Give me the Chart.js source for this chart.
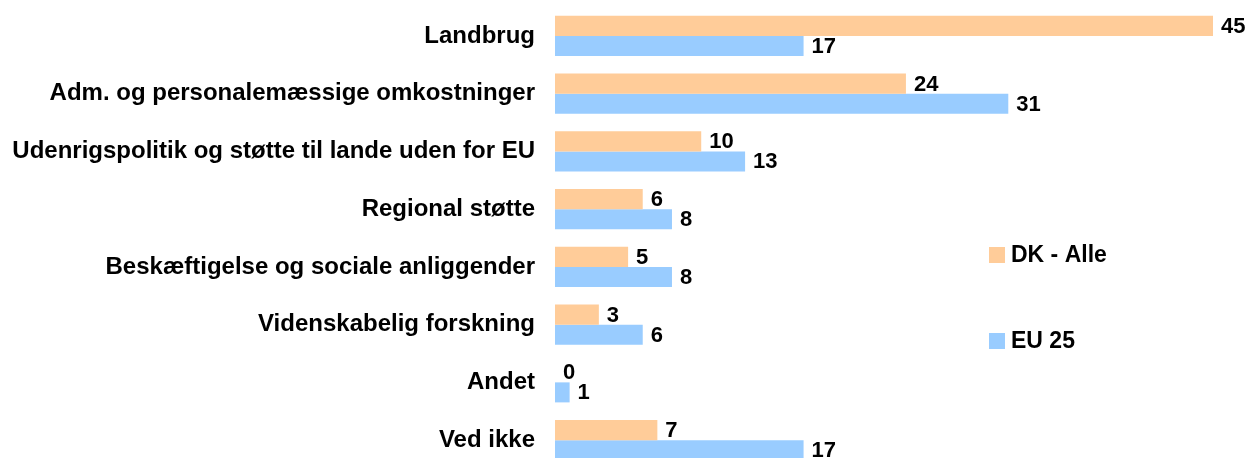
<!DOCTYPE html>
<html>
<head>
<meta charset="utf-8">
<script src="https://cdn.jsdelivr.net/npm/chart.js@4/dist/chart.umd.min.js"></script>
<style>
  html, body { margin: 0; padding: 0; background: #fff; overflow: hidden; }
  canvas { display: block; }
</style>
</head>
<body>
<canvas id="chart" width="1251" height="470"></canvas>
<script>
const categories = [
  "Landbrug",
  "Adm. og personalemæssige omkostninger",
  "Udenrigspolitik og støtte til lande uden for EU",
  "Regional støtte",
  "Beskæftigelse og sociale anliggender",
  "Videnskabelig forskning",
  "Andet",
  "Ved ikke"
];
const dkAlle = [45, 24, 10, 6, 5, 3, 0, 7];
const eu25 = [17, 31, 13, 8, 8, 6, 1, 17];
const seriesNames = ["DK - Alle", "EU 25"];

const FAMILY = "'Liberation Sans', Arial, sans-serif";

// tal ved enden af hver bjælke
const valueLabels = {
  id: "valueLabels",
  afterDatasetsDraw(chart) {
    const ctx = chart.ctx;
    ctx.save();
    ctx.font = "bold 22px " + FAMILY;
    ctx.fillStyle = "#000";
    ctx.textBaseline = "middle";
    ctx.textAlign = "left";
    chart.data.datasets.forEach((ds, i) => {
      chart.getDatasetMeta(i).data.forEach((bar, j) => {
        ctx.fillText(String(ds.data[j]), bar.x + 8, bar.y + 1);
      });
    });
    ctx.restore();
  }
};

// legenden ligger inde i plotområdet
const sideLegend = {
  id: "sideLegend",
  afterDraw(chart) {
    const ctx = chart.ctx;
    const rows = [255, 341];
    ctx.save();
    ctx.font = "bold 23px " + FAMILY;
    ctx.textBaseline = "middle";
    chart.data.datasets.forEach((ds, i) => {
      ctx.fillStyle = ds.backgroundColor;
      ctx.fillRect(989, rows[i] - 8, 16, 16);
      ctx.fillStyle = "#000";
      ctx.fillText(ds.label, 1011, rows[i] + 1);
    });
    ctx.restore();
  }
};

new Chart(document.getElementById("chart"), {
  type: "bar",
  data: {
    labels: categories,
    datasets: [
      { label: seriesNames[0], data: dkAlle, backgroundColor: "#FFCC99" },
      { label: seriesNames[1], data: eu25, backgroundColor: "#99CCFF" }
    ]
  },
  options: {
    indexAxis: "y",
    responsive: false,
    animation: false,
    layout: { padding: { top: 7, right: 38, bottom: 1, left: 0 } },
    datasets: { bar: { barPercentage: 1, categoryPercentage: 0.693, borderWidth: 0 } },
    plugins: { legend: { display: false }, tooltip: { enabled: false } },
    scales: {
      x: { display: false, min: 0, max: 45 },
      y: {
        grid: { display: false },
        border: { display: false },
        afterFit: (scale) => {
          scale.width = 555;
          scale.paddingTop = 0;
          scale.paddingBottom = 0;
        },
        ticks: { color: "#000", padding: 12, font: { family: FAMILY, size: 24, weight: "bold" } }
      }
    }
  },
  plugins: [valueLabels, sideLegend]
});
</script>
</body>
</html>
